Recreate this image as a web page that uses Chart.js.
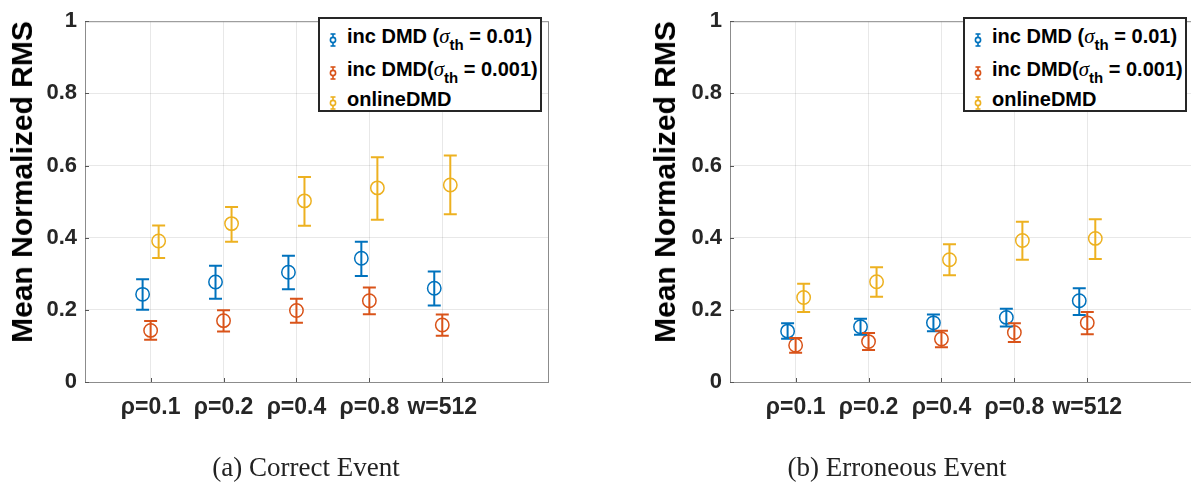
<!DOCTYPE html>
<html><head><meta charset="utf-8">
<script src="https://cdn.jsdelivr.net/npm/chart.js@4"></script>
<style>
html,body{margin:0;padding:0;background:#fff;overflow:hidden;width:1191px;height:485px;position:relative;}
.wrap{position:absolute;top:0;width:600px;height:485px;}
.ytitle{position:absolute;font:bold 30px "Liberation Sans",Arial,sans-serif;color:#000;white-space:nowrap;transform:translate(-50%,-50%) rotate(-90deg);}
.legend{position:absolute;top:17px;width:224px;height:95px;border:2px solid #262626;background:#fff;box-sizing:border-box;font:bold 20px "Liberation Sans",Arial,sans-serif;color:#000;}
.row{position:absolute;left:27px;height:24px;line-height:24px;white-space:nowrap;}
.row i{font:italic 21px "Liberation Serif",serif;}
.row sub{font-size:15px;vertical-align:-7px;line-height:0;}
.icon{position:absolute;left:7px;}
.caption{position:absolute;font:27px "Liberation Serif",serif;color:#222;transform:translate(-50%,-50%);white-space:nowrap;}
</style></head>
<body>
<div class="wrap" style="left:0"><canvas id="c1" width="600" height="485"></canvas></div>
<div class="wrap" style="left:645px"><canvas id="c2" width="600" height="485"></canvas></div>
<div class="ytitle" style="left:22px;top:182px">Mean Normalized RMS</div>
<div class="ytitle" style="left:665px;top:182px">Mean Normalized RMS</div>
<div class="legend" id="leg1" style="left:318px"></div>
<div class="legend" id="leg2" style="left:963px"></div>
<div class="caption" style="left:306px;top:467px">(a) Correct Event</div>
<div class="caption" style="left:897px;top:467px">(b) Erroneous Event</div>
<script>
// ---------- data ----------
const categories = ['ρ=0.1', 'ρ=0.2', 'ρ=0.4', 'ρ=0.8', 'w=512'];
const yTickValues = [0, 0.2, 0.4, 0.6, 0.8, 1];
const yTickLabels = ['0', '0.2', '0.4', '0.6', '0.8', '1'];
const seriesNames = ['inc DMD (σth = 0.01)', 'inc DMD(σth = 0.001)', 'onlineDMD'];

// (a) Correct Event
const correctInc01 = [0.243, 0.277, 0.304, 0.343, 0.260];
const correctInc01Low = [0.200, 0.231, 0.257, 0.294, 0.212];
const correctInc01High = [0.285, 0.322, 0.350, 0.389, 0.306];
const correctInc001 = [0.143, 0.170, 0.198, 0.225, 0.158];
const correctInc001Low = [0.117, 0.140, 0.164, 0.188, 0.128];
const correctInc001High = [0.169, 0.199, 0.231, 0.262, 0.187];
const correctOnline = [0.391, 0.439, 0.502, 0.538, 0.546];
const correctOnlineLow = [0.344, 0.389, 0.433, 0.450, 0.465];
const correctOnlineHigh = [0.434, 0.485, 0.568, 0.623, 0.628];

// (b) Erroneous Event
const errInc01 = [0.141, 0.153, 0.164, 0.179, 0.225];
const errInc01Low = [0.120, 0.131, 0.141, 0.154, 0.186];
const errInc01High = [0.163, 0.175, 0.187, 0.203, 0.260];
const errInc001 = [0.102, 0.112, 0.119, 0.137, 0.164];
const errInc001Low = [0.081, 0.089, 0.096, 0.111, 0.132];
const errInc001High = [0.122, 0.136, 0.142, 0.163, 0.194];
const errOnline = [0.234, 0.278, 0.339, 0.392, 0.398];
const errOnlineLow = [0.194, 0.236, 0.296, 0.339, 0.341];
const errOnlineHigh = [0.272, 0.318, 0.382, 0.444, 0.451];

// ---------- styles ----------
const colors = ['#0072BD', '#D95319', '#EDB120'];
const offsets = [-0.11, 0, 0.11];
const AXIS_COLOR = '#8c8c8c';

Chart.defaults.font.family = '"Liberation Sans", Arial, sans-serif';

const errorBarPlugin = {
  id: 'errorBars',
  afterDatasetsDraw(chart) {
    const ctx = chart.ctx, ys = chart.scales.y;
    chart.data.datasets.forEach((ds, i) => {
      const meta = chart.getDatasetMeta(i);
      meta.data.forEach((pt, j) => {
        const x = pt.x;
        const yl = ys.getPixelForValue(ds.errLow[j]);
        const yh = ys.getPixelForValue(ds.errHigh[j]);
        ctx.save();
        ctx.strokeStyle = ds.borderColor;
        ctx.lineWidth = 2;
        ctx.beginPath();
        ctx.moveTo(x, yl); ctx.lineTo(x, yh);
        ctx.moveTo(x - 6.5, yl); ctx.lineTo(x + 6.5, yl);
        ctx.moveTo(x - 6.5, yh); ctx.lineTo(x + 6.5, yh);
        ctx.stroke();
        ctx.restore();
      });
    });
  }
};

const boxPlugin = {
  id: 'axBox',
  beforeDatasetsDraw(chart) {
    const {ctx, chartArea: a, scales} = chart;
    ctx.save();
    ctx.strokeStyle = AXIS_COLOR;
    ctx.lineWidth = 1;
    ctx.strokeRect(a.left + 0.5, a.top + 0.5, a.right - a.left, a.bottom - a.top);
    ctx.strokeStyle = '#555';
    ctx.beginPath();
    scales.x.ticks.forEach(t => {
      const px = Math.round(scales.x.getPixelForValue(t.value)) + 0.5;
      ctx.moveTo(px, a.bottom); ctx.lineTo(px, a.bottom - 4);
    });
    scales.y.ticks.forEach(t => {
      const py = Math.round(scales.y.getPixelForValue(t.value)) + 0.5;
      ctx.moveTo(a.left, py); ctx.lineTo(a.left + 4, py);
    });
    ctx.stroke();
    ctx.restore();
  }
};

function makeDatasets(means, lows, highs) {
  return means.map((m, s) => ({
    label: seriesNames[s],
    data: m.map((v, i) => ({x: i + 1 + offsets[s], y: v})),
    errLow: lows[s],
    errHigh: highs[s],
    borderColor: colors[s],
    backgroundColor: 'rgba(0,0,0,0)',
    pointRadius: 6.7,
    pointHoverRadius: 6.7,
    pointBorderWidth: 1.5,
    showLine: false
  }));
}

function makeChart(id, datasets) {
  return new Chart(document.getElementById(id), {
    type: 'scatter',
    data: {datasets},
    options: {
      responsive: false,
      animation: false,
      devicePixelRatio: 1,
      layout: {padding: {left: 0, right: 52, top: 12, bottom: 0}},
      plugins: {legend: {display: false}, tooltip: {enabled: false}},
      events: [],
      scales: {
        x: {
          type: 'linear', min: 0.1, max: 6.45,
          afterBuildTicks: s => { s.ticks = categories.map((c, i) => ({value: i + 1})); },
          afterFit: s => { s.height = 103; },
          grid: {color: 'rgba(0,0,0,0.09)', drawTicks: false, lineWidth: 1},
          border: {display: false},
          ticks: {
            autoSkip: false, maxRotation: 0, padding: 12,
            color: '#262626', font: {size: 23, weight: 'bold'},
            callback: (v, i) => categories[i]
          }
        },
        y: {
          min: 0, max: 1,
          afterBuildTicks: s => { s.ticks = yTickValues.map(v => ({value: v})); },
          afterFit: s => { s.width = 85; },
          grid: {color: 'rgba(0,0,0,0.09)', drawTicks: false, lineWidth: 1},
          border: {display: false},
          ticks: {
            padding: 8, color: '#262626', font: {size: 22, weight: 'bold'},
            callback: (v, i) => yTickLabels[i]
          }
        }
      }
    },
    plugins: [boxPlugin, errorBarPlugin]
  });
}

makeChart('c1', makeDatasets(
  [correctInc01, correctInc001, correctOnline],
  [correctInc01Low, correctInc001Low, correctOnlineLow],
  [correctInc01High, correctInc001High, correctOnlineHigh]));
makeChart('c2', makeDatasets(
  [errInc01, errInc001, errOnline],
  [errInc01Low, errInc001Low, errOnlineLow],
  [errInc01High, errInc001High, errOnlineHigh]));

// HTML legend (for sub/superscript text)
const legendRows = [
  'inc DMD (<i>σ</i><sub>th</sub> = 0.01)',
  'inc DMD(<i>σ</i><sub>th</sub> = 0.001)',
  'onlineDMD'
];
const rowCenters = [17, 50, 80];
function iconSvg(c) {
  return `<svg width="12" height="14" viewBox="0 0 12 14"><g stroke="${c}" stroke-width="1.6" fill="none">` +
    `<line x1="6" y1="1" x2="6" y2="13"/><line x1="3.5" y1="1" x2="8.5" y2="1"/><line x1="3.5" y1="13" x2="8.5" y2="13"/>` +
    `<circle cx="6" cy="7" r="2.6" fill="#fff"/></g></svg>`;
}
['leg1', 'leg2'].forEach(id => {
  const el = document.getElementById(id);
  legendRows.forEach((txt, k) => {
    const ic = document.createElement('div');
    ic.className = 'icon';
    ic.style.top = (rowCenters[k] - 7) + 'px';
    ic.innerHTML = iconSvg(colors[k]);
    el.appendChild(ic);
    const r = document.createElement('div');
    r.className = 'row';
    r.style.top = (rowCenters[k] - 12) + 'px';
    r.innerHTML = txt;
    el.appendChild(r);
  });
});
</script>
</body></html>
